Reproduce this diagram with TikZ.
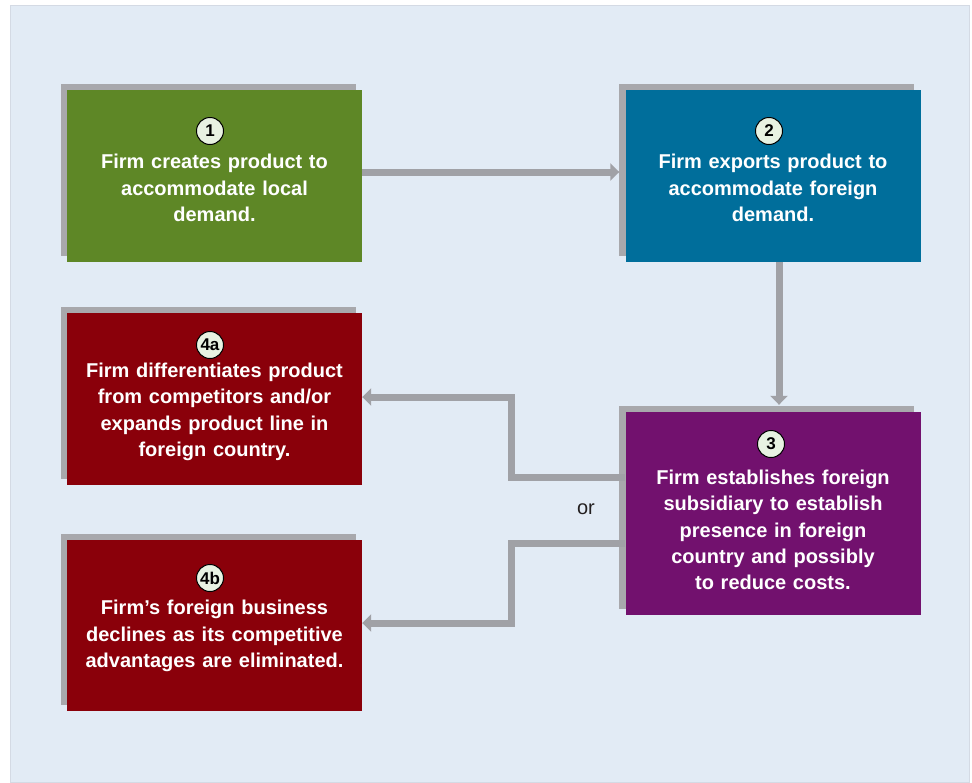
\documentclass[tikz,border=0pt]{standalone}
\usepackage{fontspec}
\setmainfont{Liberation Sans}
\usetikzlibrary{arrows.meta,shadows}

\definecolor{panelblue}{RGB}{226,235,245}
\definecolor{panelline}{RGB}{212,218,228}
\definecolor{stepgreen}{RGB}{94,135,38}
\definecolor{stepblue}{RGB}{0,110,155}
\definecolor{steppurple}{RGB}{114,17,110}
\definecolor{stepred}{RGB}{138,0,10}
\definecolor{shadowgray}{RGB}{168,168,172}
\definecolor{flowgray}{RGB}{160,161,166}
\definecolor{badgefill}{RGB}{232,242,226}
\definecolor{ortext}{RGB}{35,31,32}

\begin{document}
\begin{tikzpicture}[x=1pt,y=-1pt,
    stagebox/.style={rectangle, minimum width=295pt, inner sep=0pt,
      general shadow={shadow xshift=-6.5pt, shadow yshift=6.5pt, fill=shadowgray}},
    stagetext/.style={text=white, align=center, text width=285pt,
      font=\fontsize{20}{26.3}\selectfont\bfseries},
    badge/.style={circle, draw=black, line width=1pt, fill=badgefill,
      minimum size=27pt, inner sep=0pt, font=\fontsize{17}{17}\selectfont\bfseries},
    flow/.style={draw=flowgray, line width=7pt,
      -{Triangle[width=17pt,length=9pt]}}]

  \useasboundingbox (0,0) rectangle (972,782);
  % Panel
  \fill[white] (0,0) rectangle (972,782);
  \filldraw[fill=panelblue, draw=panelline, line width=0.6pt] (10,5) rectangle (969,782);

  % Step 1 (local demand)
  \node[stagebox, fill=stepgreen, minimum height=172pt] (b1) at (214.5,176) {};
  \node[stagetext] (t1) at (214.5,188) {Firm creates product to\\accommodate local\\demand.};
  \node[badge] (n1) at (210,131) {1};

  % Step 2 (exports)
  \node[stagebox, fill=stepblue, minimum height=172pt] (b2) at (773,176) {};
  \node[stagetext] (t2) at (773,188) {Firm exports product to\\accommodate foreign\\demand.};
  \node[badge] (n2) at (769,131) {2};

  % Step 3 (subsidiary)
  \node[stagebox, fill=steppurple, minimum height=203pt] (b3) at (773,513.5) {};
  \node[stagetext] (t3) at (773,530) {Firm establishes foreign\\subsidiary to establish\\presence in foreign\\country and possibly\\to reduce costs.};
  \node[badge] (n3) at (771,444) {3};

  % Step 4a
  \node[stagebox, fill=stepred, minimum height=172pt] (b4a) at (214.5,399) {};
  \node[stagetext] (t4a) at (214.5,412) {Firm differentiates product\\from competitors and/or\\expands product line in\\foreign country.};
  \node[badge] (n4a) at (210,345) {4a};

  % Step 4b
  \node[stagebox, fill=stepred, minimum height=171pt] (b4b) at (214.5,625.5) {};
  \node[stagetext] (t4b) at (214.5,636) {Firm's foreign business\\declines as its competitive\\advantages are eliminated.};
  \node[badge] (n4b) at (210,578) {4b};

  % Arrows
  \draw[flow, shorten >=6pt] ([yshift=4pt]b1.east) -- ([yshift=4pt]b2.west);
  \draw[flow, shorten >=7pt] ([xshift=6pt]b2.south) -- ([xshift=6pt]b3.north);
  \draw[flow] ([yshift=36.5pt]b3.west) -- ++(-114,0) |- ([yshift=2pt]b4a.east);
  \draw[flow] ([yshift=-29.5pt]b3.west) -- ++(-114,0) |- ([yshift=2.5pt]b4b.east);

  \node[text=ortext, font=\fontsize{20}{24}\selectfont] (or) at (586,509) {or};

\end{tikzpicture}
\end{document}
